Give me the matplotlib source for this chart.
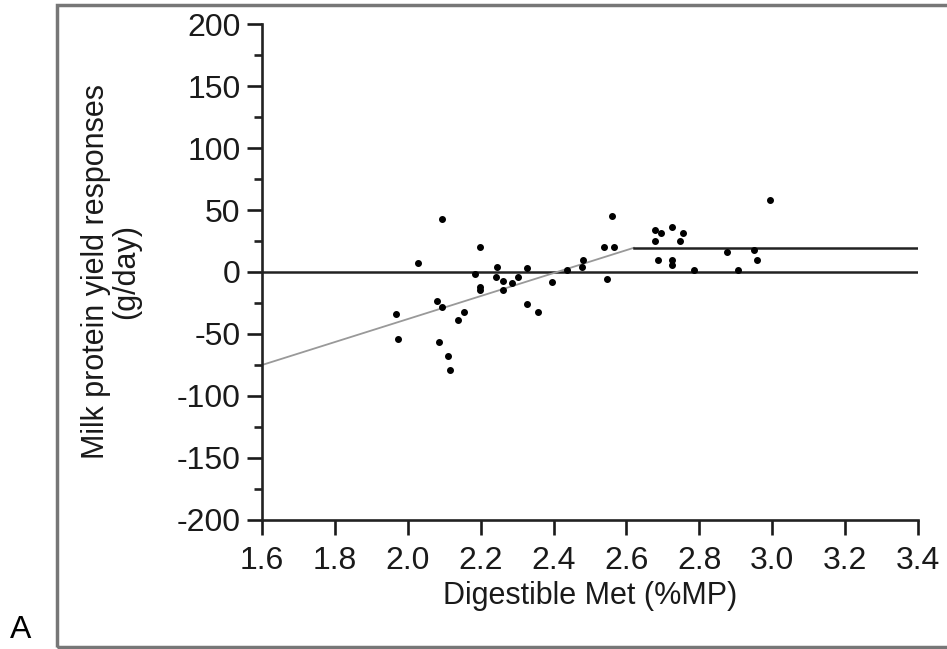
import matplotlib.pyplot as plt
from matplotlib.patches import Rectangle
from matplotlib.ticker import MultipleLocator

plt.rcParams['font.family'] = ['Liberation Sans', 'DejaVu Sans']
plt.rcParams['axes.unicode_minus'] = False

# data
met = [2.093, 2.198, 2.027, 2.185, 2.244, 2.242, 2.262, 2.285, 2.303, 2.326,
       2.198, 2.198, 2.260, 2.395, 2.079, 2.093, 1.967, 2.326, 2.357, 2.139,
       2.153, 1.974, 2.086, 2.110, 2.116, 2.560, 2.994, 2.537, 2.567, 2.678,
       2.695, 2.724, 2.754, 2.678, 2.747, 2.686, 2.724, 2.724, 2.875, 2.951,
       2.957, 2.784, 2.905, 2.546, 2.482, 2.477, 2.436]
resp = [42.5, 20.4, 7.5, -1.9, 3.8, -3.8, -7.3, -9.1, -3.8, 3.5,
        -11.8, -14.5, -14.5, -7.8, -23, -28, -34, -25.8, -32.5, -38.7,
        -32, -54, -56.7, -67.5, -79, 45, 58, 20.4, 20.4, 33.9,
        31.7, 36, 31.7, 25, 25, 9.7, 9.7, 5.6, 16.4, 17.7,
        9.7, 1.6, 1.6, -5.9, 9.7, 4.3, 1.6]

# broken-line fit
fit_x = [1.6, 2.62]
fit_y = [-75, 19.5]
plateau_x = [2.62, 3.4]
plateau_y = [19.5, 19.5]

fig = plt.figure(figsize=(9.47, 6.49), dpi=100)
ax = fig.add_axes([0.2767, 0.1988, 0.6927, 0.7642])

ax.axhline(0, color='#222222', lw=1.8, zorder=1)
ax.plot(fit_x, fit_y, color='#999999', lw=1.3, zorder=2)
ax.plot(plateau_x, plateau_y, color='#222222', lw=1.8, zorder=2)
ax.scatter(met, resp, s=16, color='black', zorder=3)

ax.set_xlim(1.6, 3.4)
ax.set_ylim(-200, 200)
ax.set_xticks([1.6, 1.8, 2.0, 2.2, 2.4, 2.6, 2.8, 3.0, 3.2, 3.4])
ax.set_yticks(range(-200, 201, 50))
ax.yaxis.set_minor_locator(MultipleLocator(25))
ax.xaxis.set_major_formatter(plt.FuncFormatter(lambda v, p: f'{v:.1f}'))

for s in ['top', 'right']:
    ax.spines[s].set_visible(False)
for s in ['left', 'bottom']:
    ax.spines[s].set_linewidth(1.9)
    ax.spines[s].set_color('#222222')

ax.tick_params(axis='both', which='major', length=11, width=1.9, labelsize=23,
               colors='#1a1a1a')
ax.tick_params(axis='y', which='major', pad=4.5)
ax.tick_params(axis='x', which='major', pad=8)
ax.tick_params(axis='y', which='minor', length=6, width=1.9, color='#222222')

ax.set_xlabel('Digestible Met (%MP)', fontsize=22, color='#1a1a1a', labelpad=3)
ax.set_ylabel('Milk protein yield responses\n(g/day)', fontsize=22,
              color='#1a1a1a', linespacing=1.0)
ax.yaxis.set_label_coords(-0.185, 0.5)

# outer frame and panel letter
fig.patches.append(Rectangle((57 / 947, 2 / 649), 1.0, 1 - 7 / 649,
                             transform=fig.transFigure, fill=False,
                             edgecolor='#777777', lw=2.5))
fig.text(10 / 947, 4 / 649, 'A', fontsize=23, ha='left', va='bottom')

fig.savefig('out.png', dpi=100)
